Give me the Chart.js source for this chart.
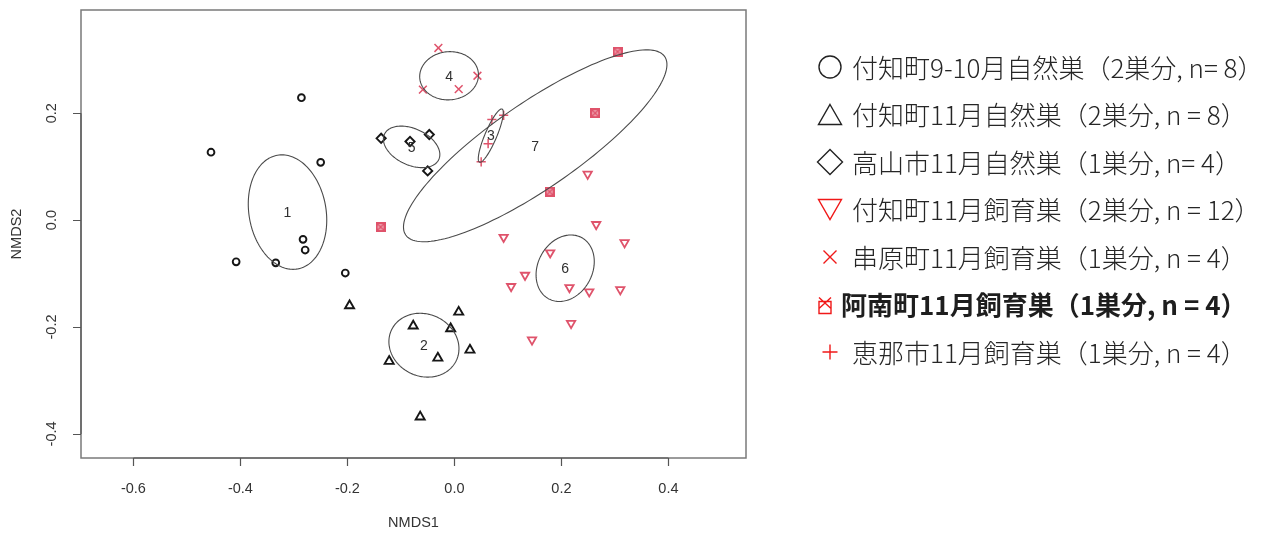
<!DOCTYPE html>
<html>
<head>
<meta charset="utf-8">
<script src="https://cdn.jsdelivr.net/npm/chart.js@4.4.1/dist/chart.umd.min.js"></script>
<style>
  html, body { margin: 0; padding: 0; background: #fff; }
  #wrap { position: relative; width: 1269px; height: 534px; }
  canvas { display: block; }
</style>
</head>
<body>
<div id="wrap"><canvas id="c" width="1269" height="534"></canvas></div>
<script>
// NMDS scores per nest group (NMDS1 = x, NMDS2 = y)
const fukuchiSepOctX = [-0.455, -0.286, -0.250, -0.283, -0.279, -0.408, -0.334, -0.204];
const fukuchiSepOctY = [0.127, 0.229, 0.108, -0.036, -0.056, -0.078, -0.080, -0.099];

const fukuchiNovX = [0.008, -0.077, -0.007, 0.029, -0.031, -0.122, -0.064, -0.196];
const fukuchiNovY = [-0.172, -0.198, -0.203, -0.243, -0.258, -0.264, -0.368, -0.160];

const takayamaX = [-0.137, -0.047, -0.083, -0.050];
const takayamaY = [0.153, 0.160, 0.147, 0.092];

const fukuchiRearX = [0.092, 0.265, 0.318, 0.179, 0.132, 0.106, 0.215, 0.252, 0.310, 0.218, 0.145, 0.249];
const fukuchiRearY = [-0.032, -0.008, -0.042, -0.061, -0.103, -0.124, -0.126, -0.134, -0.130, -0.193, -0.224, 0.086];

const kushiharaX = [-0.030, 0.043, -0.059, 0.008];
const kushiharaY = [0.322, 0.270, 0.244, 0.245];

const ananX = [0.305, 0.263, 0.178, -0.138];
const ananY = [0.315, 0.200, 0.053, -0.013];

const enaX = [0.070, 0.092, 0.063, 0.050];
const enaY = [0.188, 0.196, 0.143, 0.109];

// group ellipses: centre, semi-axes and orientation (degrees) in NMDS units
const ellipseLabels = ['1', '2', '3', '4', '5', '6', '7'];
const ellipseCx = [-0.312, -0.057, 0.068, -0.010, -0.080, 0.207, 0.151];
const ellipseCy = [0.015, -0.234, 0.158, 0.270, 0.137, -0.090, 0.139];
const ellipseA = [0.108, 0.067, 0.054, 0.055, 0.056, 0.065, 0.294];
const ellipseB = [0.072, 0.058, 0.011, 0.045, 0.034, 0.051, 0.080];
const ellipseAngle = [100, -25, 67, 5, -25, 62, 34.6];

// axis ticks
const xTicks = [-0.6, -0.4, -0.2, 0.0, 0.2, 0.4];
const xTickLabels = ['-0.6', '-0.4', '-0.2', '0.0', '0.2', '0.4'];
const yTicks = [-0.4, -0.2, 0.0, 0.2];
const yTickLabels = ['-0.4', '-0.2', '0.0', '0.2'];

// legend entries
const legendLabels = [
  '付知町9-10月自然巣（2巣分, n= 8）',
  '付知町11月自然巣（2巣分, n = 8）',
  '高山市11月自然巣（1巣分, n= 4）',
  '付知町11月飼育巣（2巣分, n = 12）',
  '串原町11月飼育巣（1巣分, n = 4）',
  '阿南町11月飼育巣（1巣分, n = 4）',
  '恵那市11月飼育巣（1巣分, n = 4）'
];

const RED = '#DF536B';
const INK = '#161616';
const LEG_RED = '#F01818';

function pts(xs, ys) { return xs.map((x, i) => ({ x: x, y: ys[i] })); }

function squareCross(color) {
  const c = document.createElement('canvas');
  c.width = 10; c.height = 10;
  const g = c.getContext('2d');
  g.fillStyle = 'rgba(223,83,107,0.55)';
  g.fillRect(1, 1, 8, 8);
  g.strokeStyle = color;
  g.lineWidth = 2;
  g.strokeRect(1, 1, 8, 8);
  g.lineWidth = 1.3;
  g.beginPath();
  g.moveTo(1, 1); g.lineTo(9, 9);
  g.moveTo(9, 1); g.lineTo(1, 9);
  g.stroke();
  return c;
}

const plotDecor = {
  id: 'plotDecor',
  afterDatasetsDraw(chart) {
    const { ctx } = chart;
    const xs = chart.scales.x, ys = chart.scales.y;
    ctx.save();
    // ellipses
    ctx.strokeStyle = '#4a4a4a';
    ctx.lineWidth = 1.1;
    for (let i = 0; i < ellipseLabels.length; i++) {
      const th = ellipseAngle[i] * Math.PI / 180;
      const c = Math.cos(th), s = Math.sin(th);
      ctx.beginPath();
      for (let k = 0; k <= 160; k++) {
        const t = k / 160 * 2 * Math.PI;
        const u = ellipseA[i] * Math.cos(t), v = ellipseB[i] * Math.sin(t);
        const px = xs.getPixelForValue(ellipseCx[i] + u * c - v * s);
        const py = ys.getPixelForValue(ellipseCy[i] + u * s + v * c);
        if (k === 0) ctx.moveTo(px, py); else ctx.lineTo(px, py);
      }
      ctx.closePath();
      ctx.stroke();
    }
    // ellipse labels
    ctx.fillStyle = '#303030';
    ctx.font = '14px "Liberation Sans", Arial, sans-serif';
    ctx.textAlign = 'center';
    ctx.textBaseline = 'middle';
    for (let i = 0; i < ellipseLabels.length; i++) {
      ctx.fillText(ellipseLabels[i], xs.getPixelForValue(ellipseCx[i]), ys.getPixelForValue(ellipseCy[i]) + 1);
    }
    ctx.restore();
  },
  afterDraw(chart) {
    const { ctx, chartArea: a } = chart;
    const xs = chart.scales.x, ys = chart.scales.y;
    ctx.save();
    // frame
    ctx.strokeStyle = '#7a7a7a';
    ctx.lineWidth = 1.5;
    ctx.strokeRect(a.left, a.top, a.right - a.left, a.bottom - a.top);
    // axis lines across tick range and ticks
    ctx.strokeStyle = '#555';
    ctx.lineWidth = 1.2;
    ctx.beginPath();
    ctx.moveTo(xs.getPixelForValue(xTicks[0]), a.bottom);
    ctx.lineTo(xs.getPixelForValue(xTicks[xTicks.length - 1]), a.bottom);
    xTicks.forEach(v => {
      const px = Math.round(xs.getPixelForValue(v)) + 0.5;
      ctx.moveTo(px, a.bottom); ctx.lineTo(px, a.bottom + 8);
    });
    ctx.moveTo(a.left, ys.getPixelForValue(yTicks[0]));
    ctx.lineTo(a.left, ys.getPixelForValue(yTicks[yTicks.length - 1]));
    yTicks.forEach(v => {
      const py = Math.round(ys.getPixelForValue(v)) + 0.5;
      ctx.moveTo(a.left, py); ctx.lineTo(a.left - 8, py);
    });
    ctx.stroke();
    // tick labels
    ctx.fillStyle = '#333';
    ctx.font = '14.5px "Liberation Sans", Arial, sans-serif';
    ctx.textAlign = 'center';
    ctx.textBaseline = 'middle';
    xTicks.forEach((v, i) => ctx.fillText(xTickLabels[i], xs.getPixelForValue(v), a.bottom + 31));
    yTicks.forEach((v, i) => {
      ctx.save();
      ctx.translate(a.left - 29, ys.getPixelForValue(v));
      ctx.rotate(-Math.PI / 2);
      ctx.fillText(yTickLabels[i], 0, 0);
      ctx.restore();
    });
    // axis titles
    ctx.fillText('NMDS1', (a.left + a.right) / 2, a.bottom + 65);
    ctx.save();
    ctx.translate(a.left - 64, (a.top + a.bottom) / 2);
    ctx.rotate(-Math.PI / 2);
    ctx.fillText('NMDS2', 0, 0);
    ctx.restore();

    // legend
    const rowTop = 67, rowGap = 47.5;
    legendLabels.forEach((label, i) => {
      const cy = rowTop + i * rowGap;
      const bold = i === 5;
      const sx = bold ? 825 : 830;
      ctx.save();
      ctx.lineWidth = 1.4;
      ctx.strokeStyle = '#222';
      ctx.beginPath();
      if (i === 0) {
        ctx.arc(sx, cy, 11, 0, 2 * Math.PI);
      } else if (i === 1) {
        ctx.moveTo(sx, cy - 10); ctx.lineTo(sx + 11.5, cy + 10); ctx.lineTo(sx - 11.5, cy + 10); ctx.closePath();
      } else if (i === 2) {
        ctx.moveTo(sx, cy - 12.5); ctx.lineTo(sx + 12.5, cy); ctx.lineTo(sx, cy + 12.5); ctx.lineTo(sx - 12.5, cy); ctx.closePath();
      } else if (i === 3) {
        ctx.strokeStyle = LEG_RED;
        ctx.moveTo(sx - 11.5, cy - 10); ctx.lineTo(sx + 11.5, cy - 10); ctx.lineTo(sx, cy + 10); ctx.closePath();
      } else if (i === 4) {
        ctx.strokeStyle = LEG_RED;
        ctx.moveTo(sx - 6.5, cy - 6.5); ctx.lineTo(sx + 6.5, cy + 6.5);
        ctx.moveTo(sx + 6.5, cy - 6.5); ctx.lineTo(sx - 6.5, cy + 6.5);
      } else if (i === 5) {
        ctx.strokeStyle = LEG_RED;
        ctx.rect(sx - 6, cy - 3, 12, 12);
        ctx.moveTo(sx - 6, cy - 7); ctx.lineTo(sx + 6, cy + 4);
        ctx.moveTo(sx + 6, cy - 7); ctx.lineTo(sx - 6, cy + 4);
      } else {
        ctx.strokeStyle = LEG_RED;
        ctx.moveTo(sx - 7.5, cy); ctx.lineTo(sx + 7.5, cy);
        ctx.moveTo(sx, cy - 7.5); ctx.lineTo(sx, cy + 7.5);
      }
      ctx.stroke();
      ctx.restore();
      ctx.fillStyle = bold ? '#1e1e1e' : '#262626';
      ctx.textAlign = 'left';
      ctx.textBaseline = 'middle';
      ctx.font = (bold ? 'bold ' : '300 ') + '26px "Noto Sans CJK JP", sans-serif';
      ctx.fillText(label, bold ? 841 : 852, cy + 1);
    });
    ctx.restore();
  }
};

function build() {
  const ananMark = squareCross(RED);
  new Chart(document.getElementById('c'), {
    type: 'scatter',
    data: {
      datasets: [
        { label: legendLabels[0], data: pts(fukuchiSepOctX, fukuchiSepOctY), pointStyle: 'circle', pointRadius: 3.4,
          pointBorderColor: INK, pointBackgroundColor: 'rgba(0,0,0,0)', pointBorderWidth: 1.9 },
        { label: legendLabels[1], data: pts(fukuchiNovX, fukuchiNovY), pointStyle: 'triangle', pointRadius: 5.2,
          pointBorderColor: INK, pointBackgroundColor: 'rgba(0,0,0,0)', pointBorderWidth: 1.9 },
        { label: legendLabels[2], data: pts(takayamaX, takayamaY), pointStyle: 'rectRot', pointRadius: 4.6,
          pointBorderColor: INK, pointBackgroundColor: 'rgba(0,0,0,0)', pointBorderWidth: 1.9 },
        { label: legendLabels[3], data: pts(fukuchiRearX, fukuchiRearY), pointStyle: 'triangle', pointRotation: 180, pointRadius: 4.8,
          pointBorderColor: RED, pointBackgroundColor: 'rgba(0,0,0,0)', pointBorderWidth: 1.8 },
        { label: legendLabels[4], data: pts(kushiharaX, kushiharaY), pointStyle: 'crossRot', pointRadius: 5.5,
          pointBorderColor: RED, pointBackgroundColor: RED, pointBorderWidth: 1.5 },
        { label: legendLabels[5], data: pts(ananX, ananY), pointStyle: ananMark, pointRadius: 5,
          pointBorderColor: RED, pointBackgroundColor: RED },
        { label: legendLabels[6], data: pts(enaX, enaY), pointStyle: 'cross', pointRadius: 4.6,
          pointBorderColor: RED, pointBackgroundColor: RED, pointBorderWidth: 1.5 }
      ]
    },
    options: {
      responsive: false,
      animation: false,
      devicePixelRatio: 1,
      layout: { padding: { left: 81, top: 10, right: 523, bottom: 76 } },
      scales: {
        x: { type: 'linear', min: -0.698, max: 0.545, display: false },
        y: { type: 'linear', min: -0.445, max: 0.393, display: false }
      },
      plugins: { legend: { display: false }, tooltip: { enabled: false } },
      events: []
    },
    plugins: [plotDecor]
  });
}

if (document.fonts && document.fonts.load) {
  Promise.all([
    document.fonts.load('300 26px "Noto Sans CJK JP"'),
    document.fonts.load('bold 26px "Noto Sans CJK JP"'),
    document.fonts.load('14px "Liberation Sans"')
  ]).then(build, build);
} else {
  build();
}
</script>
</body>
</html>
